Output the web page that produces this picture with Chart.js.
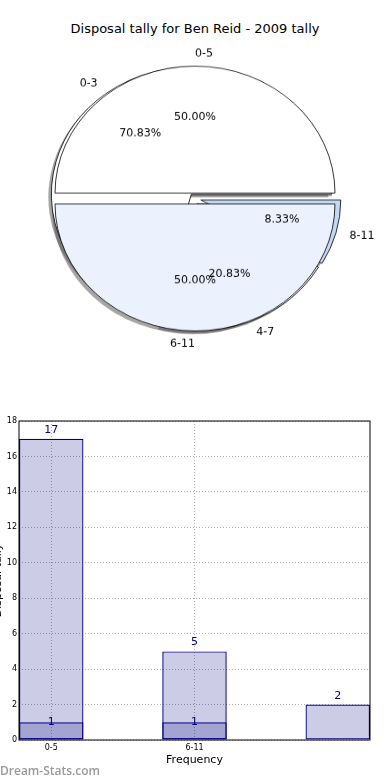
<!DOCTYPE html>
<html>
<head>
<meta charset="utf-8">
<script src="https://cdn.jsdelivr.net/npm/chart.js@4.4.0/dist/chart.umd.min.js"></script>
<style>
  body { margin: 0; width: 390px; height: 780px; position: relative; overflow: hidden; background: #fff; font-family: "DejaVu Sans", sans-serif; }
  #title { position: absolute; top: 21px; left: 0; width: 390px; text-align: center; font-size: 13px; color: #000; }
  .pie { position: absolute; left: 0; top: 0; transform: scaleY(0.907); transform-origin: 50% 50%; }
  .pie.shadow { left: -3px; top: 3px; }
  #bars { position: absolute; left: -10px; top: 400px; }
  #mark { position: absolute; left: 0; top: 762px; font: 600 12px "Open Sans", sans-serif; color: #9a9a9a; }
</style>
</head>
<body>
<div id="title">Disposal tally for Ben Reid - 2009 tally</div>
<canvas id="shadowB" class="pie shadow" width="390" height="397"></canvas>
<canvas id="shadowA" class="pie shadow" width="390" height="397"></canvas>
<canvas id="pieB" class="pie" width="390" height="397"></canvas>
<canvas id="pieA" class="pie" width="390" height="397"></canvas>
<canvas id="bars" width="400" height="380"></canvas>
<div id="mark">Dream-Stats.com</div>
<script>
// pie A: halves, pie B: three slices (drawn underneath)
const pieALabels = ['0-5', '6-11'];
const pieAValues = [1, 1];
const pieAColors = ['#ffffff', '#ebf1fd'];

const pieBLabels = ['0-3', '4-7', '8-11'];
const pieBValues = [17, 5, 2];
const pieBColors = ['#ffffff', '#ebf1fd', '#c5d7f5'];

// bar chart
const barLabels = ['0-5', '6-11', ''];
const barTotals = [17, 5, 2];
const barInner = [1, 1, 0];

Chart.defaults.font.family = '"DejaVu Sans", sans-serif';
Chart.defaults.color = '#000';

const squash = 0.907;
const explode = 6;
let pieBChart;

// pull every wedge out along its middle angle
const explodePlugin = {
  id: 'explode',
  beforeDatasetDraw(chart, args) {
    const ctx = chart.ctx;
    args.meta.data.forEach(arc => {
      const mid = (arc.startAngle + arc.endAngle) / 2;
      ctx.save();
      ctx.translate(Math.cos(mid) * explode, Math.sin(mid) * explode);
      arc.draw(ctx);
      ctx.restore();
    });
    return false;
  }
};

// labels for both pies, drawn on the top canvas
const pieTextPlugin = {
  id: 'pieText',
  afterDraw(chart) {
    const ctx = chart.ctx;
    [pieBChart, chart].forEach(src => {
      if (!src) return;
      const meta = src.getDatasetMeta(0);
      const labels = src.data.labels;
      const values = src.data.datasets[0].data;
      const total = values.reduce((a, b) => a + b, 0);
      meta.data.forEach((arc, i) => {
        const mid = (arc.startAngle + arc.endAngle) / 2;
        const c = Math.cos(mid), s = Math.sin(mid);
        const r = arc.outerRadius;
        let align = c > 1e-9 ? 'left' : (c < -1e-9 ? 'right' : (s < 0 ? 'left' : 'right'));
        const put = (text, dist, al) => {
          ctx.save();
          ctx.translate(arc.x + c * (explode + dist), arc.y + s * (explode + dist));
          ctx.scale(1, 1 / squash);
          ctx.font = '11px "DejaVu Sans"';
          ctx.fillStyle = '#000';
          ctx.textAlign = al;
          ctx.textBaseline = 'middle';
          ctx.fillText(text, 0, 0);
          ctx.restore();
        };
        put(labels[i], 1.1 * r, align);
        put((values[i] / total * 100).toFixed(2) + '%', 0.6 * r, 'center');
      });
    });
  }
};

function makePie(id, labels, values, colors, rotation, shade, extra) {
  return new Chart(document.getElementById(id), {
    type: 'pie',
    data: {
      labels: labels,
      datasets: [{
        data: values,
        backgroundColor: shade ? 'rgba(77,77,77,0.5)' : colors,
        borderColor: shade ? 'rgba(0,0,0,0)' : '#000',
        borderWidth: shade ? 0 : 0.8
      }]
    },
    options: {
      responsive: false,
      animation: false,
      events: [],
      rotation: rotation,
      radius: 140,
      layout: { padding: 0 },
      plugins: { legend: { display: false }, tooltip: { enabled: false } }
    },
    plugins: [explodePlugin].concat(extra || [])
  });
}

// chart.js goes clockwise, the original goes counter-clockwise from east
const revBLabels = pieBLabels.slice().reverse();
const revBValues = pieBValues.slice().reverse();
const revBColors = pieBColors.slice().reverse();

makePie('shadowB', revBLabels, revBValues, revBColors, 90, true);
makePie('shadowA', pieALabels, pieAValues, pieAColors, 270, true);
pieBChart = makePie('pieB', revBLabels, revBValues, revBColors, 90, false);
makePie('pieA', pieALabels, pieAValues, pieAColors, 270, false, [pieTextPlugin]);

const framePlugin = {
  id: 'frame',
  afterDraw(chart) {
    const { left, top, right, bottom } = chart.chartArea;
    const ctx = chart.ctx;
    ctx.save();
    ctx.strokeStyle = '#000';
    ctx.lineWidth = 1;
    ctx.strokeRect(left, top, right - left, bottom - top);
    ctx.restore();
  }
};

const barTextPlugin = {
  id: 'barText',
  afterDatasetsDraw(chart) {
    const ctx = chart.ctx;
    const y = chart.scales.y;
    chart.data.datasets.forEach((ds, di) => {
      chart.getDatasetMeta(di).data.forEach((bar, i) => {
        const v = ds.data[i].y;
        if (!v) return;
        ctx.save();
        ctx.font = '11px "DejaVu Sans"';
        ctx.fillStyle = '#000080';
        ctx.textAlign = 'center';
        ctx.textBaseline = 'middle';
        ctx.fillText(String(v), bar.x, y.getPixelForValue(v + ds.labelLift));
        ctx.restore();
      });
    });
  }
};

const gridStyle = { color: '#b0b0b0', lineWidth: 1, drawTicks: false };

new Chart(document.getElementById('bars'), {
  type: 'bar',
  data: {
    datasets: [
      {
        data: barInner.map((v, i) => ({ x: i, y: v })),
        backgroundColor: 'rgba(0,0,128,0.2)', borderColor: '#000080', borderWidth: 1.2,
        borderSkipped: false, grouped: false, barPercentage: 0.45, categoryPercentage: 1,
        labelLift: 0
      },
      {
        data: barTotals.map((v, i) => ({ x: i, y: v })),
        backgroundColor: 'rgba(0,0,128,0.2)', borderColor: '#000080', borderWidth: 1.2,
        borderSkipped: false, grouped: false, barPercentage: 0.45, categoryPercentage: 1,
        labelLift: 0.5
      }
    ]
  },
  options: {
    responsive: false,
    animation: false,
    events: [],
    layout: { padding: { top: 21, right: 20, left: 0, bottom: 11 } },
    plugins: { legend: { display: false }, tooltip: { enabled: false } },
    scales: {
      x: {
        type: 'linear', min: -0.225, max: 2.225, offset: false,
        afterBuildTicks: s => { s.ticks = barLabels.map((l, i) => ({ value: i })).filter(t => barLabels[t.value]); },
        afterFit: s => { s.height = 29; },
        ticks: { callback: v => barLabels[v], font: { size: 8 }, padding: 3, maxRotation: 0, autoSkip: false },
        grid: Object.assign({ offset: false }, gridStyle),
        border: { display: false, dash: [1, 2] },
        title: { display: true, text: 'Frequency', font: { size: 11 }, padding: { top: 2, bottom: 2 } }
      },
      y: {
        min: 0, max: 18,
        afterFit: s => { s.width = 29; },
        ticks: { stepSize: 2, font: { size: 8 }, padding: 2 },
        grid: gridStyle,
        border: { display: false, dash: [1, 2] },
        title: { display: true, text: 'Disposal tally', font: { size: 11 }, padding: { top: 1.5, bottom: 0 } }
      }
    }
  },
  plugins: [framePlugin, barTextPlugin]
});
</script>
</body>
</html>
